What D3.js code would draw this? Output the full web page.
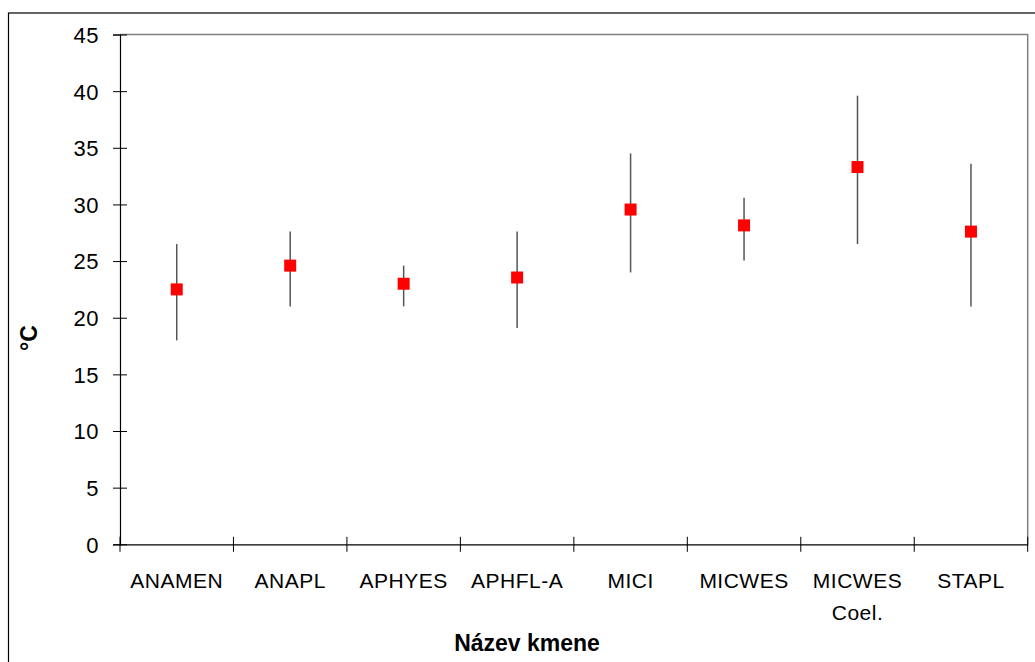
<!DOCTYPE html>
<html><head><meta charset="utf-8">
<script src="https://cdn.jsdelivr.net/npm/d3@7"></script>
<style>body{margin:0;background:#fff}svg{display:block;font-family:"Liberation Sans",Arial,sans-serif}</style>
</head><body><svg id="c" width="1035" height="662"></svg>
<script>
const categories = ["ANAMEN","ANAPL","APHYES","APHFL-A","MICI","MICWES","MICWES Coel.","STAPL"];
const means = [22.5, 24.6, 23.0, 23.55, 29.55, 28.15, 33.3, 27.6];
const highs = [26.5, 27.6, 24.6, 27.6, 34.5, 30.6, 39.6, 33.6];
const lows  = [18.0, 21.0, 21.0, 19.1, 24.0, 25.05, 26.5, 21.0];
const yTicks = [0,5,10,15,20,25,30,35,40,45];

const svg = d3.select("#c");
const L=120, R=1027.7, T=34.5, B=544.3;
// outer frame
svg.append("rect").attr("x",8.5).attr("y",13).attr("width",1040).attr("height",700)
  .attr("fill","none").attr("stroke","#000").attr("stroke-width",1.2);

const x = d3.scaleBand().domain(categories).range([L,R]).padding(0);
const y = d3.scaleLinear().domain([0,45]).range([B,T]);

// plot area border (top & right gray)
svg.append("path").attr("d",`M${L},${T}H${R}V${B}`).attr("fill","none").attr("stroke","#808080").attr("stroke-width",1.5);

// y axis
const ya = svg.append("g").attr("transform",`translate(${L},0)`)
  .call(d3.axisLeft(y).tickValues(yTicks).tickSize(7).tickPadding(14));
ya.attr("font-size",null).attr("font-family",null);
ya.select(".domain").attr("stroke","#000").attr("stroke-width",1.2);
ya.selectAll(".tick line").attr("x2",-7).attr("x1",7).attr("stroke","#000");
ya.selectAll(".tick text").attr("font-size",22).attr("fill","#000").attr("x",-21).attr("dy","0.36em").attr("letter-spacing","0.5");

// x axis
const xa = svg.append("g").attr("transform",`translate(0,${B})`)
  .call(d3.axisBottom(x).tickSize(0).tickFormat(""));
xa.select(".domain").attr("stroke","#000").attr("stroke-width",1.2);
xa.selectAll(".tick").remove();
const bounds = categories.map(c=>x(c)).concat([R]);
xa.selectAll("line.bt").data(bounds).enter().append("line")
  .attr("x1",d=>d).attr("x2",d=>d).attr("y1",-7.5).attr("y2",7.5).attr("stroke","#000").attr("stroke-width",1);
// x labels
categories.forEach(c=>{
  const parts = c==="MICWES Coel." ? ["MICWES","Coel."] : [c];
  const cx = x(c)+x.bandwidth()/2;
  const t = svg.append("text").attr("x",cx).attr("y",588)
    .attr("text-anchor","middle").attr("font-size",21).attr("fill","#000").attr("letter-spacing","0.5");
  parts.forEach((p,i)=>t.append("tspan").attr("x",cx).attr("dy",i?32:0).text(p));
});

// error bars
const g = svg.append("g");
g.selectAll("line.err").data(categories).enter().append("line")
  .attr("x1",(d)=>x(d)+x.bandwidth()/2).attr("x2",(d)=>x(d)+x.bandwidth()/2)
  .attr("y1",(d,i)=>y(highs[i])).attr("y2",(d,i)=>y(lows[i]))
  .attr("stroke","#555").attr("stroke-width",1.5);
// markers
g.selectAll("rect.m").data(categories).enter().append("rect")
  .attr("x",d=>x(d)+x.bandwidth()/2-6).attr("y",(d,i)=>y(means[i])-6)
  .attr("width",12).attr("height",12).attr("fill","#ff0000");

// titles
svg.append("text").attr("x",527).attr("y",651).attr("text-anchor","middle")
  .attr("font-size",23).attr("font-weight","bold").text("Název kmene");
svg.append("text").attr("transform","translate(36.5,338) rotate(-90)").attr("text-anchor","middle")
  .attr("font-size",23).attr("font-weight","bold").text("°C");
</script></body></html>
